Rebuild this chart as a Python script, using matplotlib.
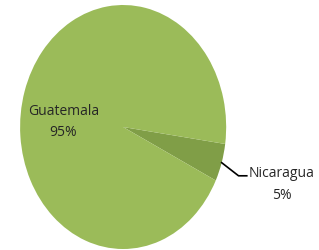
import numpy as np
import matplotlib
matplotlib.use("Agg")
import matplotlib.pyplot as plt

countries = ["Nicaragua", "Guatemala"]
shares = [5, 95]
colors = ["#809e47", "#9bbb59"]

plt.rcParams['font.family'] = ['Open Sans', 'DejaVu Sans']

fig = plt.figure(figsize=(3.19, 2.50), dpi=100)
ax = fig.add_axes([0.063, 0.004, 0.646, 0.976])

start = -8
wedges, _ = ax.pie(shares, colors=colors, startangle=start, counterclock=False,
                   radius=1, wedgeprops=dict(linewidth=0))
ax.set_aspect('auto')
ax.set_xlim(-1, 1)
ax.set_ylim(-1, 1)
ax.axis('off')

txt = '#262626'

# Guatemala label inside the pie
ax.text(-0.58, 0.04, "%s\n%d%%" % (countries[1], shares[1]), ha='center', va='center',
        fontsize=10, color=txt, linespacing=1.6)

# Nicaragua label outside with leader line
mid = np.deg2rad(start - shares[0] / 100 * 360 / 2)
p0 = (np.cos(mid), np.sin(mid))
p1 = (1.12, -0.40)
p2 = (1.20, -0.40)
ax.plot([p0[0], p1[0], p2[0]], [p0[1], p1[1], p2[1]], color='black', lw=1.2,
        clip_on=False)
ax.text(1.54, -0.47, "%s\n%d%%" % (countries[0], shares[0]), ha='center', va='center',
        fontsize=10, color=txt, linespacing=1.6, clip_on=False)

fig.savefig("out.png", dpi=100)
